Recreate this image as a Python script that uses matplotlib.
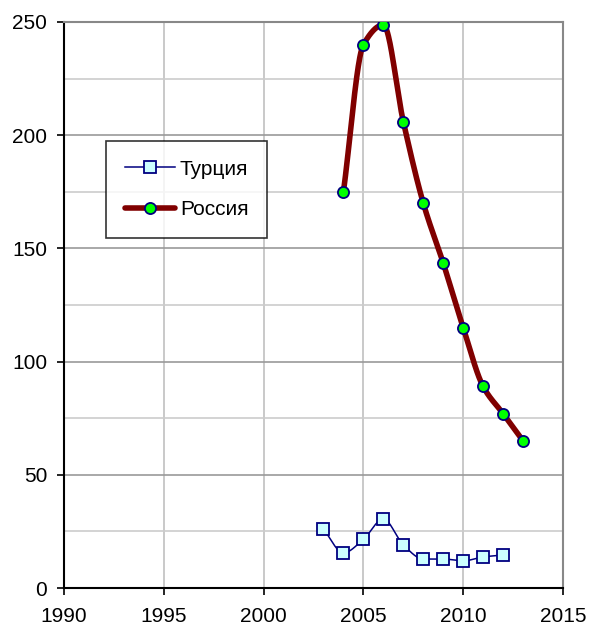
import numpy as np
import matplotlib
matplotlib.use("Agg")
import matplotlib.pyplot as plt
from matplotlib.ticker import MultipleLocator

plt.rcParams['font.family'] = ['Liberation Sans', 'DejaVu Sans']

# --- data
turkey_years = [2003, 2004, 2005, 2006, 2007, 2008, 2009, 2010, 2011, 2012]
turkey_vals = [26, 15.5, 21.5, 30.5, 19, 12.8, 12.8, 12, 13.7, 14.6]
russia_years = [2004, 2005, 2006, 2007, 2008, 2009, 2010, 2011, 2012, 2013]
russia_vals = [175, 240, 248.7, 206, 170, 143.5, 115, 89, 77, 65]


def smooth(xs, ys, n=40):
    # monotone cubic (Fritsch-Carlson) so the peak does not overshoot
    x = np.asarray(xs, float)
    y = np.asarray(ys, float)
    h = np.diff(x)
    d = np.diff(y) / h
    m = np.zeros_like(y)
    m[0], m[-1] = d[0], d[-1]
    for i in range(1, len(y) - 1):
        if d[i - 1] * d[i] <= 0:
            m[i] = 0
        else:
            w1 = 2 * h[i] + h[i - 1]
            w2 = h[i] + 2 * h[i - 1]
            m[i] = (w1 + w2) / (w1 / d[i - 1] + w2 / d[i])
    px, py = [], []
    for i in range(len(x) - 1):
        t = np.linspace(0, 1, n)
        h00 = 2 * t ** 3 - 3 * t ** 2 + 1
        h10 = t ** 3 - 2 * t ** 2 + t
        h01 = -2 * t ** 3 + 3 * t ** 2
        h11 = t ** 3 - t ** 2
        px.append(x[i] + t * h[i])
        py.append(h00 * y[i] + h10 * h[i] * m[i] + h01 * y[i + 1] + h11 * h[i] * m[i + 1])
    return np.concatenate(px), np.concatenate(py)


fig = plt.figure(figsize=(5.91, 6.26), dpi=100)
ax = fig.add_axes([0.1083, 0.0607, 0.8443, 0.9042])

navy = '#000080'

tx, ty = smooth(turkey_years, turkey_vals)
ax.plot(tx, ty, color=navy, lw=1.1, zorder=3)
ax.plot(turkey_years, turkey_vals, ls='none', marker='s', ms=8, mfc='#ccffff', mec=navy, mew=1.3, zorder=4)
ax.plot([], [], color=navy, lw=1.1, marker='s', ms=8, mfc='#ccffff', mec=navy, mew=1.3, label='Турция')

rx, ry = smooth(russia_years, russia_vals)
ax.plot(rx, ry, color='#800000', lw=4, solid_capstyle='round', zorder=3)
ax.plot(russia_years, russia_vals, ls='none', marker='o', ms=8, mfc='#00ff00', mec=navy, mew=1.3, zorder=4)
ax.plot([], [], color='#800000', lw=4, solid_capstyle='round', marker='o', ms=8,
        mfc='#00ff00', mec=navy, mew=1.3, label='Россия')

ax.set_xlim(1990, 2015)
ax.set_ylim(0, 250)
ax.xaxis.set_major_locator(MultipleLocator(5))
ax.yaxis.set_major_locator(MultipleLocator(50))
ax.yaxis.set_minor_locator(MultipleLocator(25))

ax.grid(True, which='major', axis='y', color='#999999', lw=1.2)
ax.grid(True, which='minor', axis='y', color='#cccccc', lw=1.2)
ax.grid(True, which='major', axis='x', color='#c0c0c0', lw=1.2)
ax.set_axisbelow(True)

for s in ('top', 'right'):
    ax.spines[s].set_color('#888888')
    ax.spines[s].set_linewidth(1.5)
for s in ('left', 'bottom'):
    ax.spines[s].set_color('black')
    ax.spines[s].set_linewidth(1.5)

ax.tick_params(which='major', direction='out', length=5, width=1.2, labelsize=15)
ax.tick_params(axis='y', pad=7)
ax.tick_params(axis='x', pad=9)
ax.tick_params(which='minor', length=0)

leg = ax.legend(loc='upper left', bbox_to_anchor=(0.084, 0.79), fontsize=15,
                frameon=True, fancybox=False, edgecolor='black', handlelength=2.4,
                borderpad=0.9, labelspacing=1.05, handletextpad=0.25, borderaxespad=0)
leg.get_frame().set_linewidth(1.2)

fig.savefig('out.png', dpi=100)
